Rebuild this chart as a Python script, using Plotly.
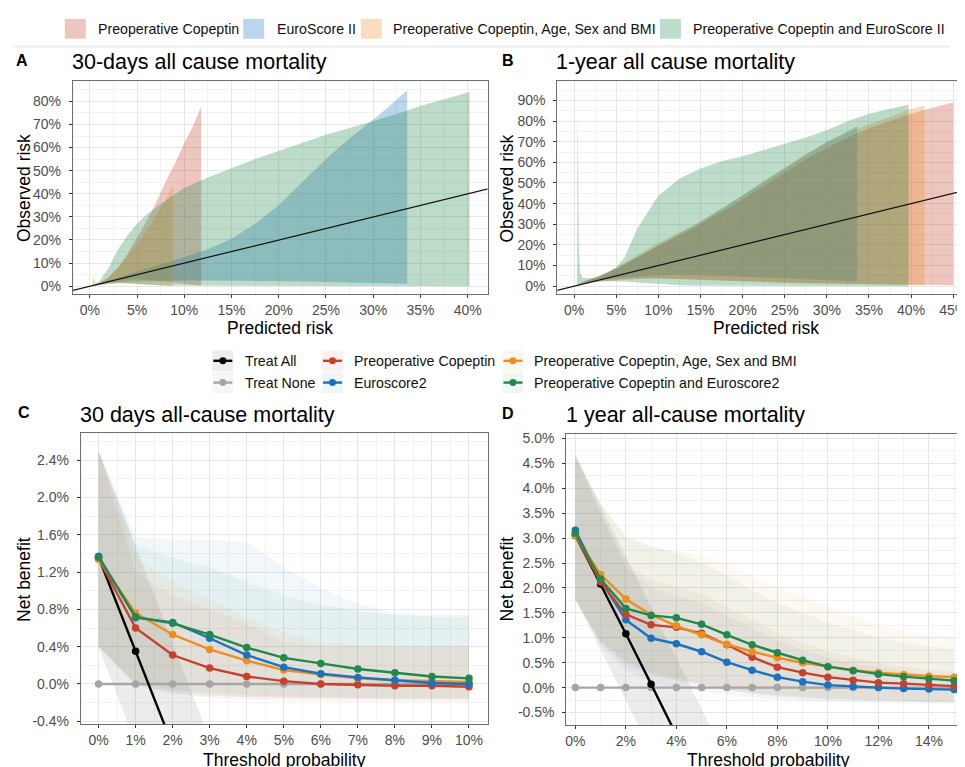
import plotly.graph_objects as go

W, H = 965, 767
OFF = 8  # the page body margin shifts the figure by this many pixels

# ---------------- colours ----------------
RED = "#C8412D"
BLUE = "#1A73BF"
ORANGE = "#EC8E22"
GREEN = "#22894B"
NONE_GRAY = "#A6A6A6"

# ---------------- Panel A : 30-day calibration (percent) ----------------
a_cop_x = [0.5, 1, 2, 3, 4, 5, 6, 7, 8, 9, 10, 11, 11.8]
a_cop_lo = [0.2, 0.6, 1.5, 2.3, 2.8, 3.0, 2.8, 2.4, 2.0, 1.5, 1.0, 0.5, 0.2]
a_cop_hi = [0.4, 1.0, 4.0, 8.0, 14.0, 21.0, 28.0, 36.0, 45.0, 53.0, 62.0, 70.0, 78.0]

a_euro_x = [0.3, 1, 2, 3, 5, 7.5, 10, 12.5, 15, 17.5, 20, 22.5, 25, 27.5, 30, 32, 33.6]
a_euro_lo = [0.2, 0.6, 1.1, 1.5, 2.0, 2.3, 2.5, 2.5, 2.4, 2.3, 2.2, 2.0, 1.8, 1.6, 1.4, 1.2, 1.0]
a_euro_hi = [0.3, 1.0, 2.5, 3.8, 6.5, 9.5, 12.5, 16.0, 20.5, 27.0, 35.0, 45.0, 55.0, 64.0, 72.0, 79.0, 84.8]

a_age_x = [0.2, 0.35, 0.5, 0.7, 1, 2, 3, 4, 5, 6, 7, 8, 8.8]
a_age_lo = [0.0, 0.0, 0.1, 0.3, 0.5, 1.0, 1.2, 1.0, 0.8, 0.6, 0.4, 0.2, 0.1]
a_age_hi = [0.5, 4.0, 2.5, 1.5, 1.5, 4.0, 8.0, 13.0, 18.0, 24.0, 30.0, 37.0, 44.0]

a_both_x = [0.5, 1, 2, 3, 4, 5, 6, 8, 10, 12.5, 15, 17.5, 20, 22.5, 25, 27.5, 30, 32.5, 35, 37.5, 40.2]
a_both_lo = [0.3, 0.8, 1.5, 1.6, 1.4, 1.0, 0.7, 0.3, 0.1, 0.0, 0.0, 0.0, 0.0, 0.0, 0.0, 0.0, 0.0, 0.0, 0.0, 0.0, 0.0]
a_both_hi = [0.5, 2.0, 8.0, 16.0, 22.0, 27.0, 31.0, 37.0, 42.5, 47.0, 51.0, 55.0, 58.5, 62.0, 65.5, 68.5, 71.5, 74.5, 78.0, 81.0, 84.0]

# ---------------- Panel B : 1-year calibration (percent) ----------------
b_cop_x = [0.5, 1, 2, 3, 5, 7.5, 10, 12.5, 15, 17.5, 20, 22.5, 25, 27.5, 30, 32.5, 35, 37.5, 40, 42.5, 45]
b_cop_lo = [0.4, 1.0, 1.7, 2.3, 3.0, 3.5, 3.7, 3.5, 3.2, 2.8, 2.4, 2.0, 1.7, 1.4, 1.2, 1.0, 0.8, 0.7, 0.6, 0.5, 0.4]
b_cop_hi = [1.0, 2.0, 3.3, 4.8, 8.5, 14.0, 19.5, 24.5, 30.0, 36.0, 42.0, 48.5, 55.0, 61.5, 67.0, 72.0, 76.5, 80.0, 83.5, 86.5, 89.0]

b_euro_x = [0.5, 1, 2, 3, 5, 7.5, 10, 12.5, 15, 17.5, 20, 22.5, 25, 27.5, 30, 32, 33.6]
b_euro_lo = [0.5, 1.2, 2.2, 3.0, 4.0, 4.8, 5.3, 5.5, 5.3, 5.0, 4.6, 4.2, 3.8, 3.4, 3.0, 2.7, 2.4]
b_euro_hi = [1.0, 2.0, 3.5, 5.0, 8.5, 14.0, 20.0, 25.5, 31.0, 37.5, 44.0, 50.5, 57.0, 63.5, 70.0, 74.0, 77.5]

b_age_x = [0.5, 1, 2, 3, 5, 7.5, 10, 12.5, 15, 17.5, 20, 22.5, 25, 27.5, 30, 32.5, 35, 37.5, 40, 41.6]
b_age_lo = [0.4, 1.0, 1.8, 2.5, 3.3, 3.8, 4.0, 3.8, 3.5, 3.0, 2.6, 2.2, 1.8, 1.5, 1.2, 1.0, 0.8, 0.7, 0.6, 0.5]
b_age_hi = [1.0, 2.0, 3.5, 5.0, 9.0, 15.0, 21.0, 26.0, 31.5, 37.5, 44.0, 51.0, 57.5, 64.0, 69.5, 74.5, 78.5, 82.0, 86.0, 87.5]

b_both_x = [0.35, 0.4, 0.45, 0.55, 0.7, 1, 2, 3, 4, 5, 6, 7.5, 9, 10, 12.5, 15, 17.5, 20, 22.5, 25, 27.5, 30, 32.5, 35, 37.5, 39.7]
b_both_lo = [0.3, 0.5, 0.8, 1.2, 1.6, 2.0, 2.2, 2.3, 2.4, 2.5, 2.3, 1.8, 1.2, 1.0, 0.5, 0.3, 0.2, 0.1, 0.1, 0.0, 0.0, 0.0, 0.0, 0.0, 0.0, 0.0]
b_both_hi = [2.0, 83.6, 70.0, 20.0, 7.0, 4.0, 3.8, 4.5, 6.5, 9.3, 14.0, 28.0, 38.0, 44.0, 52.0, 57.0, 60.5, 63.0, 66.0, 69.0, 72.0, 75.5, 80.0, 83.5, 86.0, 88.0]

# identity reference line (observed = predicted)
diag = [-10, 100]

# ---------------- Panel C : 30-day decision curve (percent) ----------------
c_thr = [0, 1, 2, 3, 4, 5, 6, 7, 8, 9, 10]
c_all = [1.36, 0.35, -0.66, -1.67]
c_all_lo = [0.40, -0.64, -1.68, -2.72]
c_all_hi = [2.50, 1.47, 0.44, -0.59]
c_none = [0, 0, 0, 0, 0, 0, 0, 0, 0, 0, 0]
c_cop = [1.34, 0.60, 0.31, 0.17, 0.08, 0.03, 0.00, -0.01, -0.02, -0.02, -0.03]
c_euro = [1.37, 0.71, 0.66, 0.49, 0.31, 0.18, 0.11, 0.07, 0.04, 0.01, 0.00]
c_age = [1.34, 0.76, 0.53, 0.37, 0.25, 0.15, 0.10, 0.06, 0.04, 0.03, 0.02]
c_both = [1.36, 0.72, 0.65, 0.53, 0.39, 0.28, 0.22, 0.16, 0.12, 0.08, 0.06]
c_cop_lo = [0.40, 0.00, -0.10, -0.15, -0.17, -0.18, -0.18, -0.19, -0.19, -0.19, -0.19]
c_cop_hi = [2.50, 1.20, 0.95, 0.80, 0.65, 0.45, 0.40, 0.40, 0.40, 0.40, 0.40]
c_euro_lo = [0.40, -0.02, -0.10, -0.13, -0.14, -0.15, -0.15, -0.16, -0.16, -0.16, -0.16]
c_euro_hi = [2.50, 1.58, 1.55, 1.55, 1.52, 1.25, 1.03, 0.86, 0.76, 0.74, 0.74]
c_age_lo = [0.40, 0.00, -0.08, -0.12, -0.14, -0.15, -0.16, -0.16, -0.17, -0.17, -0.17]
c_age_hi = [2.50, 1.35, 1.10, 0.90, 0.72, 0.55, 0.45, 0.42, 0.40, 0.40, 0.40]
c_both_lo = [0.40, 0.02, -0.06, -0.10, -0.12, -0.13, -0.14, -0.15, -0.15, -0.15, -0.15]
c_both_hi = [2.50, 1.50, 1.35, 1.25, 1.10, 0.95, 0.85, 0.78, 0.74, 0.72, 0.72]

# ---------------- Panel D : 1-year decision curve (percent) ----------------
d_thr = [0, 1, 2, 3, 4, 5, 6, 7, 8, 9, 10, 11, 12, 13, 14, 15]
d_all = [3.06, 2.08, 1.08, 0.07, -0.95, -1.98, -3.00]
d_all_lo = [1.78, 0.76, -0.26, -1.28, -2.30, -3.32, -4.34]
d_all_hi = [4.67, 3.65, 2.63, 1.61, 0.59, -0.43, -1.45]
d_none = [0] * 16
d_cop = [3.05, 2.12, 1.47, 1.26, 1.21, 1.09, 0.86, 0.61, 0.41, 0.30, 0.21, 0.15, 0.10, 0.08, 0.05, 0.03]
d_euro = [3.16, 2.15, 1.36, 0.99, 0.88, 0.72, 0.51, 0.35, 0.21, 0.12, 0.05, 0.02, 0.00, -0.02, -0.03, -0.04]
d_age = [3.06, 2.27, 1.78, 1.46, 1.24, 1.06, 0.87, 0.72, 0.60, 0.50, 0.42, 0.35, 0.30, 0.26, 0.23, 0.21]
d_both = [3.10, 2.18, 1.59, 1.45, 1.40, 1.27, 1.06, 0.86, 0.70, 0.55, 0.42, 0.34, 0.27, 0.22, 0.18, 0.14]
d_cop_lo = [1.75, 0.90, 0.45, 0.25, 0.15, 0.05, -0.05, -0.12, -0.18, -0.22, -0.25, -0.27, -0.28, -0.29, -0.30, -0.30]
d_cop_hi = [4.60, 3.50, 2.50, 2.15, 2.02, 1.89, 1.62, 1.36, 1.09, 0.89, 0.72, 0.60, 0.50, 0.42, 0.36, 0.32]
d_euro_lo = [1.80, 0.85, 0.35, 0.10, 0.00, -0.08, -0.15, -0.20, -0.24, -0.27, -0.29, -0.30, -0.31, -0.32, -0.33, -0.33]
d_euro_hi = [4.70, 3.50, 2.40, 2.00, 1.85, 1.70, 1.45, 1.20, 0.95, 0.75, 0.60, 0.48, 0.40, 0.33, 0.28, 0.23]
d_age_lo = [1.75, 0.95, 0.55, 0.30, 0.15, 0.05, -0.05, -0.12, -0.17, -0.20, -0.23, -0.25, -0.27, -0.28, -0.29, -0.30]
d_age_hi = [4.65, 3.70, 3.00, 2.81, 2.75, 2.65, 2.49, 2.25, 2.01, 1.82, 1.63, 1.42, 1.26, 1.13, 1.03, 1.00]
d_both_lo = [1.78, 0.92, 0.50, 0.30, 0.20, 0.08, -0.02, -0.10, -0.15, -0.19, -0.22, -0.24, -0.26, -0.27, -0.28, -0.28]
d_both_hi = [4.65, 3.70, 3.05, 2.85, 2.70, 2.50, 2.25, 1.95, 1.70, 1.50, 1.30, 1.15, 1.00, 0.90, 0.82, 0.78]

# ---------------- tick labels ----------------
c_ytick_vals = [-0.4, 0.0, 0.4, 0.8, 1.2, 1.6, 2.0, 2.4]
c_ytick_text = ["-0.4%", "0.0%", "0.4%", "0.8%", "1.2%", "1.6%", "2.0%", "2.4%"]
d_ytick_vals = [-0.5, 0.0, 0.5, 1.0, 1.5, 2.0, 2.5, 3.0, 3.5, 4.0, 4.5, 5.0]
d_ytick_text = ["-0.5%", "0.0%", "0.5%", "1.0%", "1.5%", "2.0%", "2.5%", "3.0%", "3.5%", "4.0%", "4.5%", "5.0%"]

calib_names = ["Preoperative Copeptin", "EuroScore II",
               "Preoperative Copeptin, Age, Sex and BMI", "Preoperative Copeptin and EuroScore II"]
dca_names_col1 = ["Treat All", "Treat None"]
dca_names_col2 = ["Preoperative Copeptin", "Euroscore2"]
dca_names_col3 = ["Preoperative Copeptin, Age, Sex and BMI", "Preoperative Copeptin and Euroscore2"]

FONT = "Liberation Sans, Arial, sans-serif"


def rgba(hexc, a):
    h = hexc.lstrip("#")
    r, g, b = int(h[0:2], 16), int(h[2:4], 16), int(h[4:6], 16)
    return f"rgba({r},{g},{b},{a})"


def blend(hexc, a):
    h = hexc.lstrip("#")
    c = [int(h[i:i + 2], 16) for i in (0, 2, 4)]
    c = [int(round(255 + a * (v - 255))) for v in c]
    return "#%02X%02X%02X" % tuple(c)


def px(x):
    return min(1.0, (x - OFF) / W)


def py(y):
    return 1 - (y - OFF) / H


fig = go.Figure()


def ribbon(x, lo, hi, color, xa, ya):
    fig.add_trace(go.Scatter(
        x=list(x) + list(x)[::-1], y=list(hi) + list(lo)[::-1],
        mode="lines", fill="toself", fillcolor=color, line=dict(width=0),
        hoverinfo="skip", showlegend=False, xaxis=xa, yaxis=ya))


def curve(x, y, color, xa, ya, width=2.4, size=7.5):
    fig.add_trace(go.Scatter(
        x=x, y=y, mode="lines+markers", line=dict(color=color, width=width),
        marker=dict(color=color, size=size), hoverinfo="skip", showlegend=False,
        xaxis=xa, yaxis=ya, cliponaxis=True))


# ----- Panel A -----
CAL_A = 0.3
ribbon(a_cop_x, a_cop_lo, a_cop_hi, rgba(RED, CAL_A), "x", "y")
ribbon(a_euro_x, a_euro_lo, a_euro_hi, rgba(BLUE, CAL_A), "x", "y")
ribbon(a_age_x, a_age_lo, a_age_hi, rgba(ORANGE, CAL_A), "x", "y")
ribbon(a_both_x, a_both_lo, a_both_hi, rgba(GREEN, CAL_A), "x", "y")
fig.add_trace(go.Scatter(x=diag, y=diag, mode="lines", line=dict(color="#111111", width=1.2),
                         hoverinfo="skip", showlegend=False, xaxis="x", yaxis="y"))

# ----- Panel B -----
ribbon(b_cop_x, b_cop_lo, b_cop_hi, rgba(RED, CAL_A), "x2", "y2")
ribbon(b_euro_x, b_euro_lo, b_euro_hi, rgba(BLUE, CAL_A), "x2", "y2")
ribbon(b_age_x, b_age_lo, b_age_hi, rgba(ORANGE, CAL_A), "x2", "y2")
ribbon(b_both_x, b_both_lo, b_both_hi, rgba(GREEN, CAL_A), "x2", "y2")
fig.add_trace(go.Scatter(x=diag, y=diag, mode="lines", line=dict(color="#111111", width=1.2),
                         hoverinfo="skip", showlegend=False, xaxis="x2", yaxis="y2"))

# ----- Panel C -----
DCA_A = 0.06
ALL_FILL = "rgba(120,120,120,0.14)"
ribbon(c_thr[:len(c_all)], c_all_lo, c_all_hi, ALL_FILL, "x3", "y3")
ribbon(c_thr, c_cop_lo, c_cop_hi, rgba(RED, DCA_A), "x3", "y3")
ribbon(c_thr, c_euro_lo, c_euro_hi, rgba(BLUE, DCA_A), "x3", "y3")
ribbon(c_thr, c_age_lo, c_age_hi, rgba(ORANGE, DCA_A), "x3", "y3")
ribbon(c_thr, c_both_lo, c_both_hi, rgba(GREEN, DCA_A), "x3", "y3")
curve(c_thr, c_none, NONE_GRAY, "x3", "y3")
curve(c_thr[:len(c_all)], c_all, "#000000", "x3", "y3")
curve(c_thr, c_cop, RED, "x3", "y3")
curve(c_thr, c_age, ORANGE, "x3", "y3")
curve(c_thr, c_euro, BLUE, "x3", "y3")
curve(c_thr, c_both, GREEN, "x3", "y3")

# ----- Panel D -----
ribbon(d_thr[:len(d_all)], d_all_lo, d_all_hi, ALL_FILL, "x4", "y4")
ribbon(d_thr, d_cop_lo, d_cop_hi, rgba(RED, DCA_A), "x4", "y4")
ribbon(d_thr, d_euro_lo, d_euro_hi, rgba(BLUE, DCA_A), "x4", "y4")
ribbon(d_thr, d_age_lo, d_age_hi, rgba(ORANGE, DCA_A), "x4", "y4")
ribbon(d_thr, d_both_lo, d_both_hi, rgba(GREEN, DCA_A), "x4", "y4")
curve(d_thr, d_none, NONE_GRAY, "x4", "y4")
curve(d_thr[:len(d_all)], d_all, "#000000", "x4", "y4")
curve(d_thr, d_euro, BLUE, "x4", "y4")
curve(d_thr, d_cop, RED, "x4", "y4")
curve(d_thr, d_age, ORANGE, "x4", "y4")
curve(d_thr, d_both, GREEN, "x4", "y4")

# ----- axes -----
GRID = "#E6E6E6"
MINOR = "#F2F2F2"
BORDER = "#6E6E6E"
TICKFONT = dict(family=FONT, size=14, color="#4D4D4D")


def xaxis(domain, rng, dtick, mdtick, anchor, mirror=True):
    return dict(domain=domain, range=rng, anchor=anchor, tickmode="linear", tick0=0, dtick=dtick,
                ticksuffix="%", ticks="outside", ticklen=3, tickcolor="#333333", tickwidth=1,
                showgrid=True, gridcolor=GRID, gridwidth=1,
                minor=dict(showgrid=True, gridcolor=MINOR, gridwidth=0.8, tick0=0, dtick=mdtick),
                showline=True, linecolor=BORDER, linewidth=1, mirror=mirror, zeroline=False,
                tickfont=TICKFONT, ticklabelstandoff=0, fixedrange=True)


def yaxis(domain, rng, anchor, dtick=None, mdtick=None, vals=None, text=None, mirror=True):
    d = dict(domain=domain, range=rng, anchor=anchor,
             ticks="outside", ticklen=3, tickcolor="#333333", tickwidth=1,
             showgrid=True, gridcolor=GRID, gridwidth=1,
             minor=dict(showgrid=True, gridcolor=MINOR, gridwidth=0.8, tickmode="linear", tick0=0, dtick=mdtick),
             showline=True, linecolor=BORDER, linewidth=1, mirror=mirror, zeroline=False,
             tickfont=TICKFONT, ticklabelstandoff=5, fixedrange=True)
    if vals is not None:
        d.update(tickmode="array", tickvals=vals, ticktext=text)
    else:
        d.update(tickmode="linear", tick0=0, dtick=dtick, ticksuffix="%")
    return d


yA = [py(294), py(79)]
yC = [py(729), py(434)]
yD = [py(730), py(435)]

fig.update_layout(
    xaxis=xaxis([px(72), px(488)], [-1.8, 42.1], 5, 2.5, "y"),
    yaxis=yaxis(yA, [-3.4, 88.7], "x", dtick=10, mdtick=5),
    xaxis2=xaxis([px(558), px(967)], [-2.0, 46.4], 5, 2.5, "y2"),
    yaxis2=yaxis(yA, [-3.8, 99.3], "x2", dtick=10, mdtick=5, mirror=False),
    xaxis3=xaxis([px(80), px(488)], [-0.48, 10.5], 1, 0.5, "y3"),
    yaxis3=yaxis(yC, [-0.435, 2.697], "x3", mdtick=0.2, vals=c_ytick_vals, text=c_ytick_text),
    xaxis4=xaxis([px(567), px(967)], [-0.36, 15.43], 2, 1, "y4"),
    yaxis4=yaxis(yD, [-0.76, 5.1], "x4", mdtick=0.25, vals=d_ytick_vals, text=d_ytick_text, mirror=False),
)

# ----- texts -----
ann = []


def text(x, y, s, size, color="#000000", bold=False, xanchor="left", angle=0):
    ann.append(dict(x=px(x), y=py(y), xref="paper", yref="paper", text=("<b>%s</b>" % s) if bold else s,
                    showarrow=False, xanchor=xanchor, yanchor="middle", textangle=angle,
                    font=dict(family=FONT, size=size, color=color)))


# panel letters and titles
text(13, 58, "A", 16, bold=True)
text(501, 58, "B", 16, bold=True)
text(15, 414, "C", 16, bold=True)
text(501, 415, "D", 16, bold=True)
text(69, 60, "30-days all cause mortality", 21.5)
text(555, 60, "1-year all cause mortality", 21.5)
text(77, 416, "30 days all-cause mortality", 21.5)
text(565, 416, "1 year all-cause mortality", 21.5)

# axis titles
text(280, 328, "Predicted risk", 17.5, xanchor="center")
text(767, 328, "Predicted risk", 17.5, xanchor="center")
text(284, 765, "Threshold probability", 17.5, xanchor="center")
text(770, 765, "Threshold probability", 17.5, xanchor="center")
text(23, 187, "Observed risk", 17.5, xanchor="center", angle=-90)
text(508, 187, "Observed risk", 17.5, xanchor="center", angle=-90)
text(23, 582, "Net benefit", 17.5, xanchor="center", angle=-90)
text(508, 582, "Net benefit", 17.5, xanchor="center", angle=-90)

shapes = []

# top (fill) legend
top_key_x = [64, 243, 361, 661]
top_text_x = [95, 275, 391, 692]
for kx, tx, nm, col in zip(top_key_x, top_text_x, calib_names, [RED, BLUE, ORANGE, GREEN]):
    shapes.append(dict(type="rect", xref="paper", yref="paper", x0=px(kx), x1=px(kx + 21),
                       y0=py(36), y1=py(16), fillcolor=blend(col, 0.3), line=dict(width=0)))
    text(tx, 26, nm, 14.2, color="#111111")
shapes.append(dict(type="line", xref="paper", yref="paper", x0=px(12), x1=px(952), y0=py(44), y1=py(44),
                   line=dict(color="#EEEEEE", width=2)))

# middle (line) legend
rows_y = [361.5, 383.5]
cols = [
    (212, 243, dca_names_col1, ["#000000", NONE_GRAY], ["#EDEDED", "#F6F6F6"]),
    (322, 352, dca_names_col2, [RED, BLUE], [blend(RED, 0.07), blend(BLUE, 0.07)]),
    (503, 533, dca_names_col3, [ORANGE, GREEN], [blend(ORANGE, 0.07), blend(GREEN, 0.07)]),
]
for kx, tx, names, colors, bgs in cols:
    for ry, nm, col, bg in zip(rows_y, names, colors, bgs):
        shapes.append(dict(type="rect", xref="paper", yref="paper", x0=px(kx), x1=px(kx + 21),
                           y0=py(ry + 10.5), y1=py(ry - 10.5), fillcolor=bg, line=dict(width=0)))
        shapes.append(dict(type="line", xref="paper", yref="paper", x0=px(kx + 1), x1=px(kx + 20),
                           y0=py(ry), y1=py(ry), line=dict(color=col, width=2.4)))
        shapes.append(dict(type="circle", xref="paper", yref="paper", x0=px(kx + 7), x1=px(kx + 14),
                           y0=py(ry + 3.5), y1=py(ry - 3.5), fillcolor=col, line=dict(width=0)))
        text(tx, ry, nm, 14.2, color="#111111")

fig.update_layout(
    width=W, height=H, margin=dict(l=0, r=0, t=0, b=0),
    paper_bgcolor="white", plot_bgcolor="white",
    showlegend=False, annotations=ann, shapes=shapes,
    font=dict(family=FONT),
)

fig.write_html("out.html")
